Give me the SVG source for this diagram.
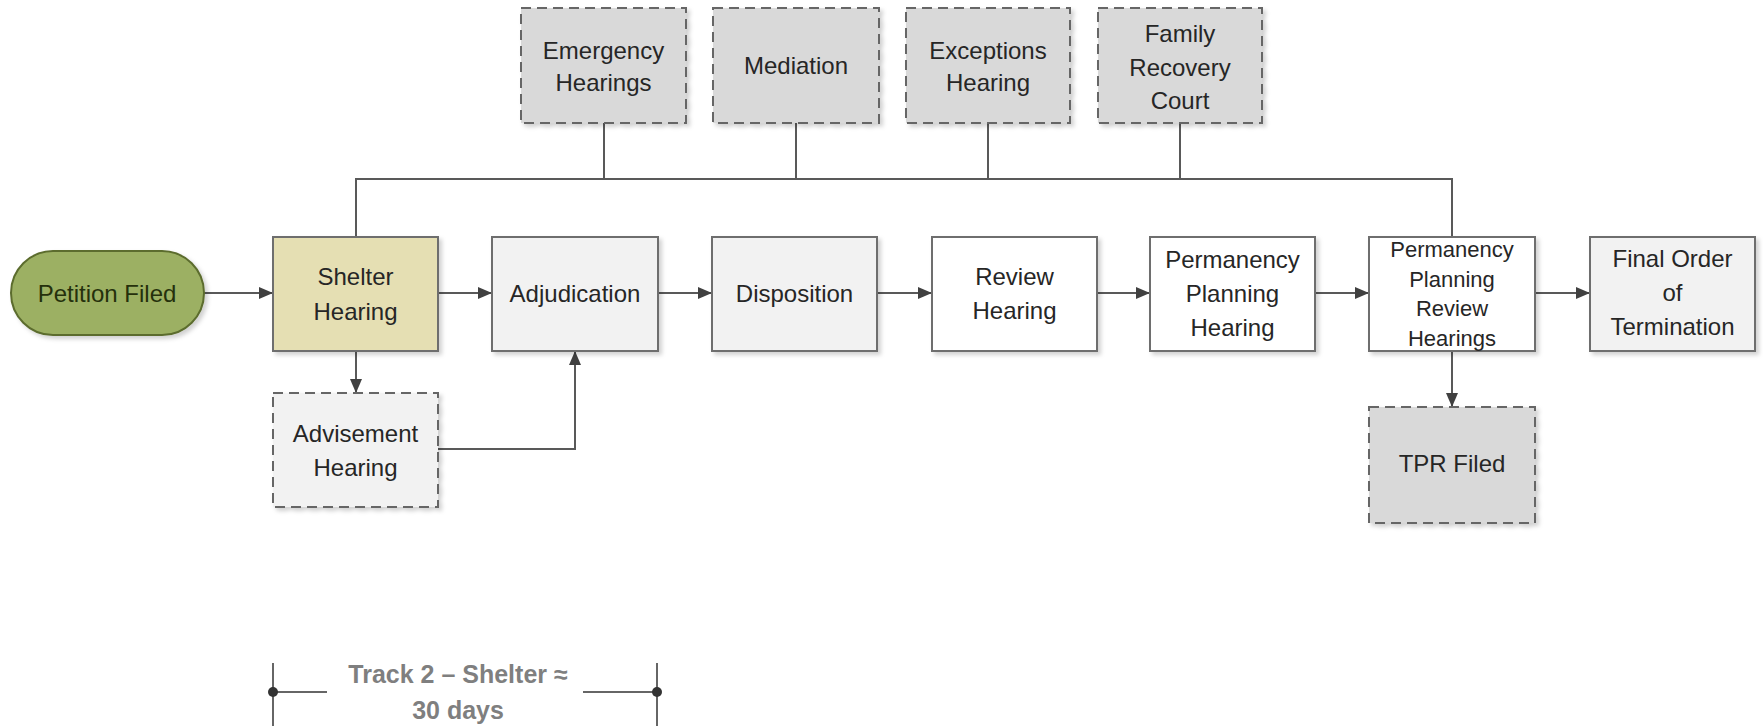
<svg xmlns="http://www.w3.org/2000/svg" width="1763" height="726" viewBox="0 0 1763 726">
<defs>
<filter id="sh" x="-10%" y="-10%" width="130%" height="130%">
<feDropShadow dx="3" dy="3" stdDeviation="2" flood-color="#000" flood-opacity="0.18"/>
</filter>
<marker id="arr" viewBox="0 0 14 12" refX="14" refY="6" markerWidth="14" markerHeight="12" markerUnits="userSpaceOnUse" orient="auto">
<path d="M0,0 L14,6 L0,12 Z" fill="#404040"/>
</marker>
</defs>
<style>
.box{stroke:#6e6e6e;stroke-width:2;filter:url(#sh)}
.dash{stroke:#666;stroke-width:2;stroke-dasharray:10,6;filter:url(#sh)}
.w{fill:#ffffff}
.lg{fill:#f2f2f2}
.dg{fill:#d9d9d9}
.t{font-family:"Liberation Sans",Arial,sans-serif;font-size:24px;fill:#262626;text-anchor:middle}
.s{font-size:22px}
.c{fill:none;stroke:#595959;stroke-width:2}
.a{marker-end:url(#arr)}
.tr{font-family:"Liberation Sans",Arial,sans-serif;font-size:25px;font-weight:bold;fill:#7f7f7f;text-anchor:middle}
</style>
<rect width="1763" height="726" fill="#ffffff"/>
<g id="connectors">
<path class="c" d="M356,237 V179 H1452 V237"/>
<path class="c" d="M604,123 V179 M796,123 V179 M988,123 V179 M1180,123 V179"/>
<path class="c a" d="M204,293 H273"/>
<path class="c a" d="M438,293 H492"/>
<path class="c a" d="M658,293 H712"/>
<path class="c a" d="M877,293 H932"/>
<path class="c a" d="M1097,293 H1150"/>
<path class="c a" d="M1315,293 H1369"/>
<path class="c a" d="M1535,293 H1590"/>
<path class="c a" d="M356,351 V393"/>
<path class="c a" d="M438,449 H575 V351"/>
<path class="c a" d="M1452,351 V407"/>
</g>
<g id="petition-filed">
<rect x="11" y="251" width="193" height="84" rx="42" fill="#9cb063" stroke="#5b6c2d" stroke-width="2" filter="url(#sh)"/>
<text class="t" x="107" y="302" style="fill:#25300c">Petition Filed</text>
</g>
<g id="shelter-hearing">
<rect class="box" x="273" y="237" width="165" height="114" fill="#e5dfb3"/>
<text class="t" x="355.5" y="285">Shelter</text>
<text class="t" x="355.5" y="320">Hearing</text>
</g>
<g id="adjudication">
<rect class="box lg" x="492" y="237" width="166" height="114"/>
<text class="t" x="575" y="302">Adjudication</text>
</g>
<g id="disposition">
<rect class="box lg" x="712" y="237" width="165" height="114"/>
<text class="t" x="794.5" y="302">Disposition</text>
</g>
<g id="review-hearing">
<rect class="box w" x="932" y="237" width="165" height="114"/>
<text class="t" x="1014.5" y="285">Review</text>
<text class="t" x="1014.5" y="319">Hearing</text>
</g>
<g id="permanency-planning-hearing">
<rect class="box w" x="1150" y="237" width="165" height="114"/>
<text class="t" x="1232.5" y="268">Permanency</text>
<text class="t" x="1232.5" y="302">Planning</text>
<text class="t" x="1232.5" y="336">Hearing</text>
</g>
<g id="permanency-planning-review-hearings">
<rect class="box w" x="1369" y="237" width="166" height="114"/>
<text class="t s" x="1452" y="257">Permanency</text>
<text class="t s" x="1452" y="287">Planning</text>
<text class="t s" x="1452" y="316">Review</text>
<text class="t s" x="1452" y="346">Hearings</text>
</g>
<g id="final-order">
<rect class="box lg" x="1590" y="237" width="165" height="114"/>
<text class="t" x="1672.5" y="267">Final Order</text>
<text class="t" x="1672.5" y="301">of</text>
<text class="t" x="1672.5" y="335">Termination</text>
</g>
<g id="advisement-hearing">
<rect class="dash lg" x="273" y="393" width="165" height="114"/>
<text class="t" x="355.5" y="442">Advisement</text>
<text class="t" x="355.5" y="476">Hearing</text>
</g>
<g id="tpr-filed">
<rect class="dash dg" x="1369" y="407" width="166" height="116"/>
<text class="t" x="1452" y="472">TPR Filed</text>
</g>
<g id="emergency-hearings">
<rect class="dash dg" x="521" y="8" width="165" height="115"/>
<text class="t" x="603.5" y="59">Emergency</text>
<text class="t" x="603.5" y="91">Hearings</text>
</g>
<g id="mediation">
<rect class="dash dg" x="713" y="8" width="166" height="115"/>
<text class="t" x="796" y="74">Mediation</text>
</g>
<g id="exceptions-hearing">
<rect class="dash dg" x="906" y="8" width="164" height="115"/>
<text class="t" x="988" y="59">Exceptions</text>
<text class="t" x="988" y="91">Hearing</text>
</g>
<g id="family-recovery-court">
<rect class="dash dg" x="1098" y="8" width="164" height="115"/>
<text class="t" x="1180" y="42">Family</text>
<text class="t" x="1180" y="76">Recovery</text>
<text class="t" x="1180" y="109">Court</text>
</g>
<g id="track-2">
<path d="M273,663 V726 M657,663 V726 M273,692 H327 M583,692 H657" fill="none" stroke="#666" stroke-width="2"/>
<circle cx="273" cy="692" r="5" fill="#333"/>
<circle cx="657" cy="692" r="5" fill="#333"/>
<text class="tr" x="458" y="683">Track 2 – Shelter ≈</text>
<text class="tr" x="458" y="719">30 days</text>
</g>
</svg>
